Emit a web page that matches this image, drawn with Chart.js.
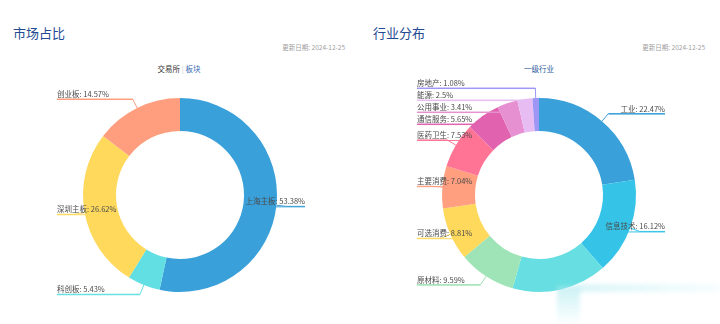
<!DOCTYPE html>
<html>
<head>
<meta charset="utf-8">
<script src="https://cdn.jsdelivr.net/npm/chart.js@4.4.1/dist/chart.umd.min.js"></script>
<style>
body{margin:0;width:720px;height:324px;background:#fff;font-family:"Noto Sans CJK SC",sans-serif;position:relative;overflow:hidden}
.panel{position:absolute;top:0;width:360px;height:324px}
.title{position:absolute;left:13px;top:24px;font-size:13px;line-height:18px;color:#234a92}
.date{position:absolute;right:15px;top:43px;font-size:6.5px;line-height:8px;color:#a0a0a0}
.sub{position:absolute;top:64px;left:0;width:358px;text-align:center;font-size:7.5px;line-height:10px}
canvas{position:absolute;left:0;top:0}
.fade1{position:absolute;left:578px;top:284px;width:142px;height:8px;background:linear-gradient(to right,rgba(190,238,244,.55),rgba(225,248,250,.25));filter:blur(2px)}
.fade2{position:absolute;left:557px;top:286px;width:23px;height:38px;background:linear-gradient(to bottom,rgba(170,232,238,.6),rgba(235,250,252,.1));filter:blur(2px)}
</style>
</head>
<body>
<div class="panel" style="left:0">
  <div class="title">市场占比</div>
  <div class="date">更新日期: 2024-12-25</div>
  <div class="sub"><span style="color:#333">交易所</span> <span style="color:#ccc">|</span> <span style="color:#3d6bb3">板块</span></div>
  <canvas id="marketChart" width="360" height="324"></canvas>
</div>
<div class="panel" style="left:360px">
  <div class="title">行业分布</div>
  <div class="date">更新日期: 2024-12-25</div>
  <div class="sub" style="color:#2e5aa0">一级行业</div>
  <canvas id="industryChart" width="360" height="324"></canvas>
</div>
<div class="fade1"></div>
<div class="fade2"></div>
<script>
// 市场占比
const marketLabels = ['上海主板', '科创板', '深圳主板', '创业板'];
const marketValues = [53.38, 5.43, 26.62, 14.57];
const marketColors = ['#3aa0da', '#62dfe2', '#fed95c', '#fe9e7f'];

// 行业分布
const industryLabels = ['工业', '信息技术', '金融', '原材料', '可选消费', '主要消费', '医药卫生', '通信服务', '公用事业', '能源', '房地产'];
const industryValues = [22.47, 16.12, 15.8, 9.59, 8.81, 7.04, 7.53, 5.65, 3.41, 2.5, 1.08];
const industryColors = ['#3aa0da', '#35c4e8', '#67dfe2', '#9ee4b6', '#ffd95c', '#ff9f7f', '#ff7494', '#e162af', '#e690d1', '#e7bcf3', '#9d96f5'];

// label not shown in the picture
const hiddenLabels = ['金融'];

// echarts style outside labels with leader lines
const outerLabels = {
    id: 'outerLabels',
    afterDatasetsDraw(chart) {
        const ctx = chart.ctx;
        const meta = chart.getDatasetMeta(0);
        const ds = chart.data.datasets[0];
        const items = [];
        meta.data.forEach((arc, i) => {
            const name = chart.data.labels[i];
            if (hiddenLabels.includes(name)) return;
            const p = arc.getProps(['x', 'y', 'startAngle', 'endAngle', 'outerRadius'], true);
            const mid = (p.startAngle + p.endAngle) / 2;
            const cx = Math.cos(mid), cy = Math.sin(mid);
            const r = p.outerRadius;
            items.push({
                text: name + ': ' + ds.data[i] + '%',
                color: ds.backgroundColor[i],
                x0: p.x + cx * r, y0: p.y + cy * r,
                x1: p.x + cx * (r + 10), y1: p.y + cy * (r + 10),
                right: cx >= 0
            });
        });
        [true, false].forEach(side => {
            const list = items.filter(it => it.right === side).sort((a, b) => a.y1 - b.y1);
            let prev = -100;
            list.forEach(it => {
                it.ly = Math.max(it.y1, prev + 12);
                prev = it.ly;
            });
        });
        ctx.save();
        ctx.font = '7.5px "Noto Sans CJK SC"';
        ctx.lineWidth = 1;
        items.forEach(it => {
            const w = ctx.measureText(it.text).width;
            let a, b, tx;
            if (it.right) {
                b = 305; tx = 305 - w;
                a = Math.min(it.x1, tx);
            } else {
                a = 57; tx = 57;
                b = Math.max(it.x1, 57 + w);
            }
            ctx.strokeStyle = it.color;
            ctx.beginPath();
            ctx.moveTo(it.x0, it.y0);
            ctx.lineTo(it.x1, it.ly);
            ctx.lineTo(it.right ? b : a, it.ly);
            ctx.moveTo(a, it.ly + 0.5);
            ctx.lineTo(b, it.ly + 0.5);
            ctx.stroke();
            ctx.fillStyle = '#4a4a4a';
            ctx.textAlign = 'left';
            ctx.textBaseline = 'alphabetic';
            ctx.fillText(it.text, tx, it.ly - 2);
        });
        ctx.restore();
    }
};

function makeDonut(id, labels, values, colors, pad) {
    return new Chart(document.getElementById(id), {
        type: 'doughnut',
        data: {
            labels: labels,
            datasets: [{
                data: values,
                backgroundColor: colors,
                borderWidth: 0
            }]
        },
        options: {
            responsive: false,
            animation: false,
            cutout: '66%',
            layout: { padding: pad },
            plugins: {
                legend: { display: false },
                tooltip: { enabled: false }
            }
        },
        plugins: [outerLabels]
    });
}

makeDonut('marketChart', marketLabels, marketValues, marketColors, { top: 98, bottom: 32, left: 0, right: 0 });
makeDonut('industryChart', industryLabels, industryValues, industryColors, { top: 98, bottom: 32, left: 0, right: 2 });
</script>
</body>
</html>
